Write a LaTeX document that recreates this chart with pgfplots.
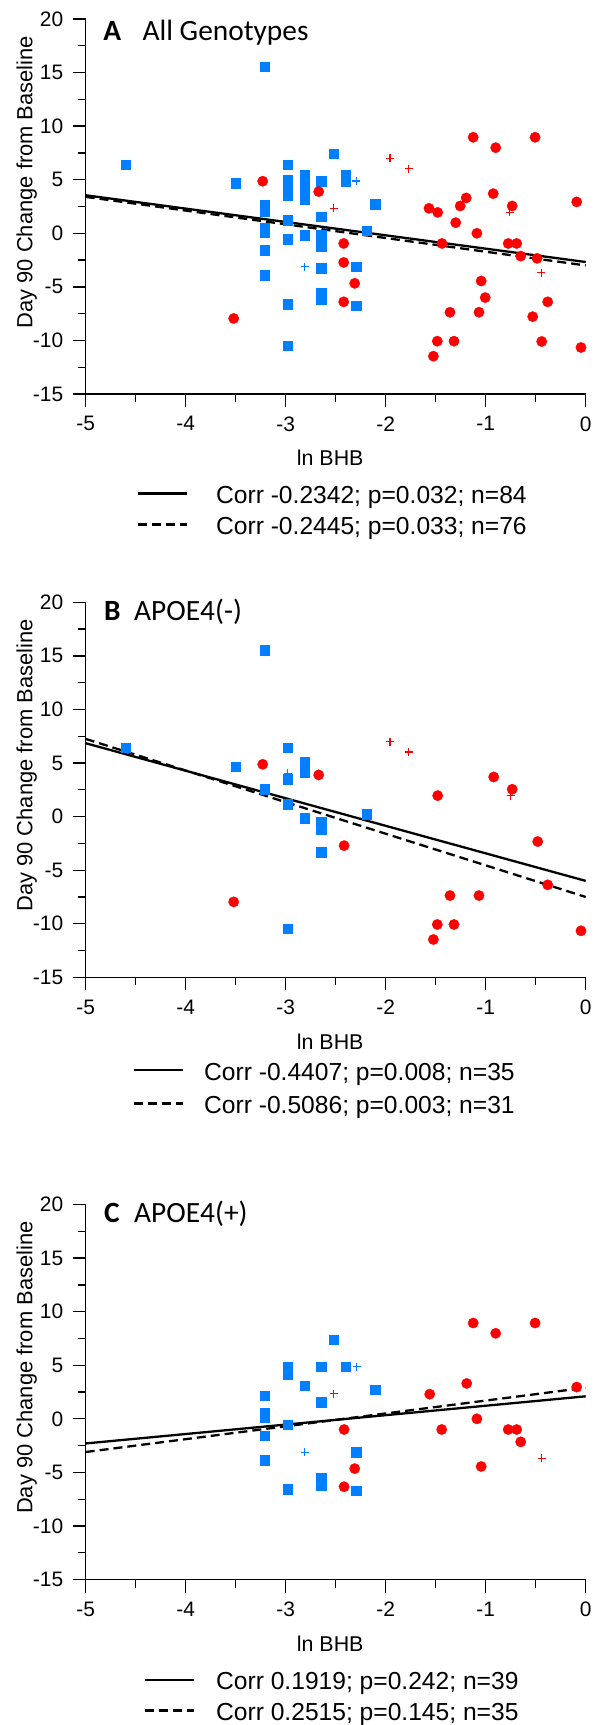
\documentclass[border=0pt]{standalone}
\usepackage{fontspec}
\setmainfont{Liberation Sans}
\newfontfamily\carlito{Carlito}
\usepackage{pgfplots}
\pgfplotsset{compat=1.18}
\definecolor{mblue}{RGB}{0,128,255}
\definecolor{mred}{RGB}{255,0,0}
\newcommand{\ttl}{\carlito\fontsize{29.5}{34}\selectfont}
\pgfplotsset{
  panel/.style={
    scale only axis, width=500bp, height=375bp,
    xmin=-5, xmax=0, ymin=-15, ymax=20,
    axis x line*=bottom, axis y line*=left,
    axis line style={line width=1.3bp,-},
    tick align=outside,
    major tick length=13bp, minor tick length=8bp,
    every tick/.style={black, line width=1.3bp},
    xtick={-5,-4,-3,-2,-1,0}, xticklabels={-5,-4,-3,-2,-1,0},
    ytick={-15,-10,-5,0,5,10,15,20}, yticklabels={-15,-10,-5,0,5,10,15,20},
    minor x tick num=1, minor y tick num=1,
    tick label style={font=\fontsize{21}{25}\selectfont},
    xticklabel style={yshift=-6bp},
    yticklabel style={xshift=-6bp},
    xlabel={ln BHB}, ylabel={Day 90 Change from Baseline},
    xlabel style={at={(axis description cs:0.489,-0.1707)}, anchor=center, font=\fontsize{21.5}{25}\selectfont},
    ylabel style={at={(axis description cs:-0.118,0.565)}, rotate=0, anchor=center, font=\fontsize{22}{26}\selectfont},
    clip=false,
    legend cell align=left,
  },
  sq/.style={only marks, mark=square*, mark size=4.7bp, color=mblue, mark options={line width=0.3bp}},
  ci/.style={only marks, mark=*, mark size=5.2bp, color=mred, mark options={line width=0.3bp}},
  bpl/.style={only marks, mark=+, mark size=4bp, color=mblue, mark options={line width=1.2bp}},
  rpl/.style={only marks, mark=+, mark size=4bp, color=mred, mark options={line width=1.2bp}},
  sol/.style={black, line width=2.3bp},
  das/.style={black, line width=2.3bp, dash pattern=on 9bp off 5bp},
  legA/.style 2 args={legend style={at={(axis description cs:#1)}, anchor=north west, draw=none, fill=none, inner sep=0pt, outer sep=0pt, font=\fontsize{24.7}{29}\selectfont, nodes={inner sep=0pt, text height=24.7bp, text depth=4.9bp}, /tikz/every odd column/.style={column sep=0pt}, /tikz/every even column/.style={column sep=0pt}},
    legend image code/.code={\draw[##1] (0bp,0bp) -- (49bp,0bp); \path[draw=none, fill=none] (0bp,0bp) -- (#2,0bp);}},
}
\begin{document}
\begin{tikzpicture}
\useasboundingbox (0bp,-1725bp) rectangle (600bp,0bp);
% ---------------- Panel A ----------------
\begin{axis}[panel, at={(85.7bp,-394bp)}, anchor=south west,
  legA={0.1026,-0.2256}{78bp},
  legend style={row sep=1.4bp}]
\addplot[sq, forget plot] coordinates {
(-4.60,6.42) (-3.50,4.67) (-3.21,15.55) (-3.21,2.62) (-3.21,2.05) (-3.21,0.52) (-3.21,0.10) (-3.21,-1.56) (-3.21,-3.89)
(-2.98,6.43) (-2.98,4.97) (-2.98,4.35) (-2.98,3.57) (-2.98,1.24) (-2.98,-0.56) (-2.98,-6.60) (-2.98,-10.48)
(-2.81,5.50) (-2.81,5.05) (-2.81,4.12) (-2.81,3.15) (-2.81,-0.16)
(-2.645,4.88) (-2.645,1.55) (-2.645,-0.16) (-2.645,-0.65) (-2.645,-1.20) (-2.645,-3.27) (-2.645,-5.55) (-2.645,-6.20)
(-2.52,7.43) (-2.40,5.42) (-2.40,4.88) (-2.106,2.73) (-2.19,0.23) (-2.295,-3.11) (-2.295,-6.78)};
\addplot[bpl, forget plot] coordinates {(-2.98,4.0) (-2.81,-3.11) (-2.295,4.88)};
\addplot[ci, forget plot] coordinates {
(-3.52,-7.95) (-3.23,4.86) (-2.67,3.89) (-2.42,-0.95) (-2.42,-2.72) (-2.31,-4.67) (-2.42,-6.40)
(-1.567,2.33) (-1.48,1.95) (-1.30,0.99) (-1.255,2.55) (-1.195,3.30) (-1.125,8.96) (-0.90,7.99) (-0.925,3.70)
(-1.088,0.00) (-1.437,-0.95) (-0.775,-0.95) (-0.69,-0.95) (-0.735,2.55) (-0.506,8.96) (-0.09,2.93)
(-0.65,-2.13) (-0.486,-2.34) (-1.045,-4.45) (-1.005,-6.00) (-0.38,-6.40) (-1.357,-7.37) (-1.067,-7.37)
(-0.53,-7.78) (-1.484,-10.07) (-1.317,-10.07) (-0.44,-10.1) (-0.047,-10.66) (-1.523,-11.47)};
\addplot[rpl, forget plot] coordinates {(-2.52,2.33) (-1.957,7.0) (-1.77,6.03) (-0.76,1.95) (-0.446,-3.67)};
\addplot[sol] coordinates {(-5,3.55) (0,-2.68)};
\addlegendentry{Corr -0.2342; p=0.032; n=84}
\addplot[das] coordinates {(-5,3.40) (0,-3.00)};
\addlegendentry{Corr -0.2445; p=0.033; n=76}
\node[anchor=base west, inner sep=0pt, font=\ttl\bfseries] at (axis description cs:0.035,0.944) {A};
\node[anchor=base west, inner sep=0pt, font=\ttl] at (axis description cs:0.1134,0.944) {All Genotypes};
\end{axis}
% ---------------- Panel B ----------------
\begin{axis}[panel, at={(85.7bp,-977.3bp)}, anchor=south west,
  legA={0.0946,-0.208}{70bp},
  legend style={row sep=3.7bp}]
\addplot[sq, forget plot] coordinates {
(-4.60,6.44) (-3.50,4.67) (-3.21,15.55) (-3.21,2.58) (-2.98,6.44) (-2.98,3.51) (-2.98,1.15) (-2.98,-10.48)
(-2.81,5.07) (-2.81,4.14) (-2.81,-0.16) (-2.645,-0.47) (-2.645,-1.18) (-2.645,-3.30) (-2.19,0.22)};
\addplot[bpl, forget plot] coordinates {(-2.98,4.05)};
\addplot[ci, forget plot] coordinates {
(-3.52,-7.96) (-3.23,4.88) (-2.67,3.89) (-2.416,-2.71) (-1.48,1.96) (-0.92,3.70) (-0.735,2.55) (-0.48,-2.33)
(-1.357,-7.37) (-1.067,-7.37) (-0.38,-6.37) (-1.484,-10.07) (-1.317,-10.07) (-1.523,-11.47) (-0.047,-10.66)};
\addplot[rpl, forget plot] coordinates {(-1.957,7.0) (-1.77,6.03) (-0.75,1.96)};
\addplot[sol] coordinates {(-5,6.85) (0,-6.0)};
\addlegendentry{Corr -0.4407; p=0.008; n=35}
\addplot[das] coordinates {(-5,7.25) (0,-7.5)};
\addlegendentry{Corr -0.5086; p=0.003; n=31}
\node[anchor=base west, inner sep=0pt, font=\ttl\bfseries] at (axis description cs:0.0366,0.952) {B};
\node[anchor=base west, inner sep=0pt, font=\ttl] at (axis description cs:0.0966,0.952) {APOE4(-)};
\end{axis}
% ---------------- Panel C ----------------
\begin{axis}[panel, at={(85.7bp,-1579.5bp)}, anchor=south west,
  legA={0.1166,-0.228}{71bp},
  legend style={row sep=1.0bp}]
\addplot[sq, forget plot] coordinates {
(-3.21,2.15) (-3.21,0.53) (-3.21,0.08) (-3.21,-1.56) (-3.21,-3.85) (-2.98,4.85) (-2.98,4.15) (-2.98,-0.56) (-2.98,-6.56)
(-2.81,3.12) (-2.645,4.86) (-2.645,1.56) (-2.645,-5.47) (-2.645,-6.19) (-2.52,7.38) (-2.40,4.86) (-2.106,2.71)
(-2.295,-3.12) (-2.295,-6.72)};
\addplot[bpl, forget plot] coordinates {(-2.81,-3.12) (-2.29,4.86)};
\addplot[ci, forget plot] coordinates {
(-2.416,-1.00) (-2.31,-4.65) (-2.416,-6.34) (-1.56,2.30) (-1.44,-1.00) (-1.19,3.30) (-1.125,8.94) (-1.088,0.00)
(-0.90,7.98) (-0.775,-1.00) (-0.69,-1.00) (-0.65,-2.15) (-0.506,8.94) (-0.09,2.96) (-1.045,-4.45)};
\addplot[rpl, forget plot] coordinates {(-2.52,2.34) (-0.44,-3.68)};
\addplot[sol] coordinates {(-5,-2.3) (0,2.1)};
\addlegendentry{Corr 0.1919; p=0.242; n=39}
\addplot[das] coordinates {(-5,-3.1) (0,2.9)};
\addlegendentry{Corr 0.2515; p=0.145; n=35}
\node[anchor=base west, inner sep=0pt, font=\ttl\bfseries] at (axis description cs:0.0366,0.952) {C};
\node[anchor=base west, inner sep=0pt, font=\ttl] at (axis description cs:0.0966,0.952) {APOE4(+)};
\end{axis}
\end{tikzpicture}
\end{document}
